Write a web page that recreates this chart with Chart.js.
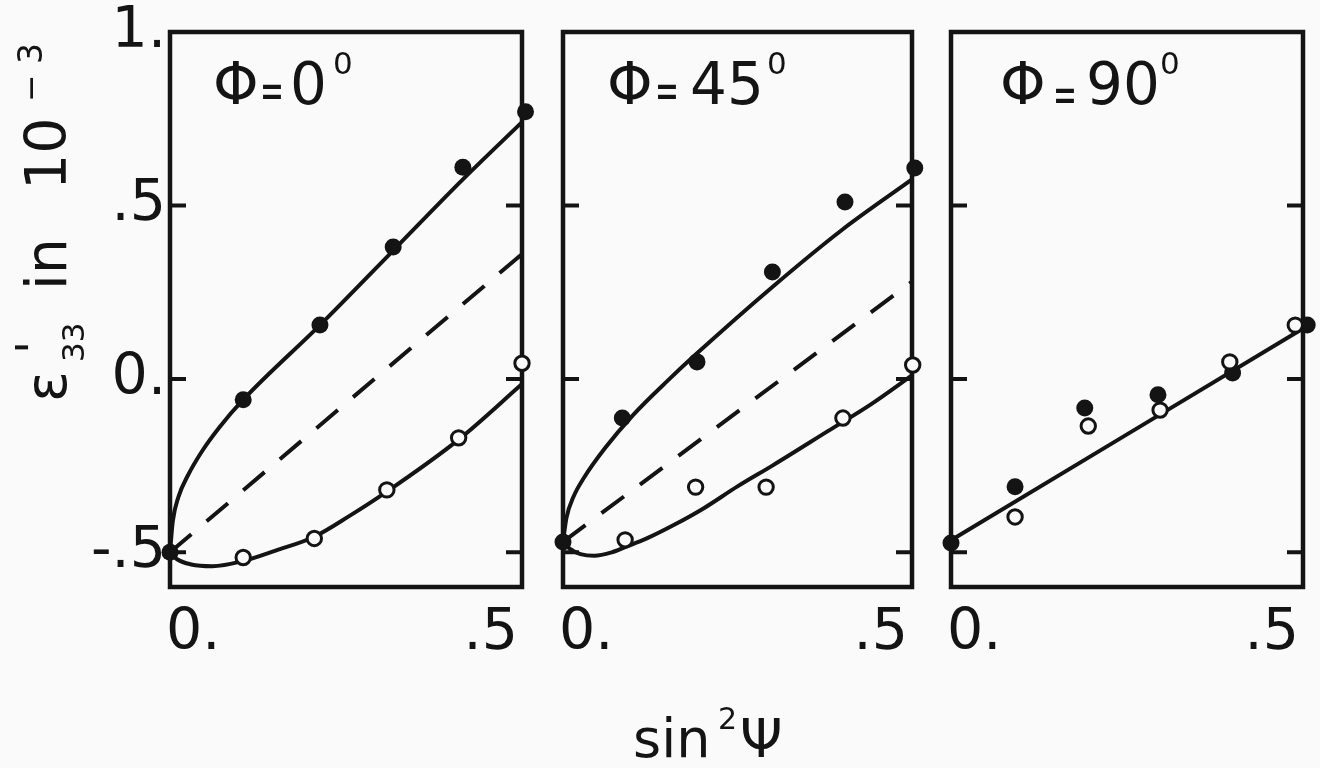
<!DOCTYPE html>
<html><head><meta charset="utf-8">
<script src="https://cdn.jsdelivr.net/npm/chart.js@4.4.1/dist/chart.umd.min.js"></script>
<style>
html,body{margin:0;padding:0;background:#fafafa;width:1320px;height:768px;overflow:hidden;}
.p{position:absolute;top:0;height:768px;}
</style></head><body>
<div class="p" style="left:0;width:540px"><canvas id="c1"></canvas></div>
<div class="p" style="left:540px;width:390px"><canvas id="c2"></canvas></div>
<div class="p" style="left:930px;width:390px"><canvas id="c3"></canvas></div>
<script>
// ---------- data ----------
const phiLabels = ['0', '45', '90'];
const xTickValues = [0, 0.5];
const xTickLabels = ['0.', '.5'];
const yTickValues = [-0.5, 0, 0.5, 1];
const yTickLabels = ['-.5', '0.', '.5', '1.'];

// Phi = 0
const p1FilledX = [0, 0.104, 0.213, 0.317, 0.416, 0.505];
const p1FilledY = [-0.5, -0.06, 0.155, 0.38, 0.61, 0.77];
const p1OpenX = [0.104, 0.205, 0.308, 0.41, 0.5];
const p1OpenY = [-0.515, -0.46, -0.32, -0.17, 0.045];
const p1UpperX = [0, 0.004, 0.012, 0.025, 0.045, 0.07, 0.104, 0.213, 0.317, 0.416, 0.5];
const p1UpperY = [-0.5, -0.41, -0.34, -0.28, -0.21, -0.14, -0.06, 0.155, 0.37, 0.575, 0.74];
const p1LowerX = [0, 0.01, 0.03, 0.06, 0.104, 0.15, 0.205, 0.255, 0.308, 0.41, 0.5];
const p1LowerY = [-0.5, -0.52, -0.535, -0.54, -0.525, -0.495, -0.455, -0.395, -0.325, -0.175, -0.015];
const p1DashX = [0, 0.5];
const p1DashY = [-0.5, 0.36];

// Phi = 45
const p2FilledX = [0, 0.085, 0.192, 0.3, 0.404, 0.504];
const p2FilledY = [-0.47, -0.113, 0.049, 0.308, 0.51, 0.608];
const p2OpenX = [0.089, 0.19, 0.291, 0.401, 0.501];
const p2OpenY = [-0.464, -0.312, -0.312, -0.113, 0.04];
const p2UpperX = [0, 0.005, 0.015, 0.03, 0.06, 0.1, 0.15, 0.19, 0.3, 0.4, 0.5];
const p2UpperY = [-0.47, -0.40, -0.34, -0.285, -0.2, -0.105, -0.005, 0.07, 0.265, 0.43, 0.575];
const p2LowerX = [0, 0.01, 0.025, 0.045, 0.07, 0.089, 0.12, 0.16, 0.2, 0.25, 0.3, 0.38, 0.44, 0.5];
const p2LowerY = [-0.47, -0.49, -0.505, -0.51, -0.5, -0.485, -0.46, -0.42, -0.375, -0.31, -0.25, -0.15, -0.075, 0.01];
const p2DashX = [0, 0.5];
const p2DashY = [-0.47, 0.28];

// Phi = 90
const p3FilledX = [0, 0.091, 0.19, 0.294, 0.4, 0.506];
const p3FilledY = [-0.473, -0.311, -0.084, -0.046, 0.017, 0.155];
const p3OpenX = [0.091, 0.195, 0.297, 0.396, 0.489];
const p3OpenY = [-0.398, -0.136, -0.09, 0.049, 0.155];
const p3LineX = [0, 0.5];
const p3LineY = [-0.465, 0.145];

// ---------- styling ----------
const INK = '#141414';
const PAPER = '#fafafa';
const FONT = "'DejaVu Sans', sans-serif";

function pts(xs, ys) { return xs.map((x, i) => ({ x: x, y: ys[i] })); }
function lineDs(xs, ys, dash) {
  return { data: pts(xs, ys), showLine: true, borderColor: INK, borderWidth: 4,
    borderDash: dash || [], pointRadius: 0, pointHoverRadius: 0,
    cubicInterpolationMode: 'monotone', order: 3, clip: false };
}
function filledDs(xs, ys) {
  return { data: pts(xs, ys), showLine: false, pointRadius: 8.5, pointHoverRadius: 8.5,
    pointBackgroundColor: INK, pointBorderColor: INK, pointBorderWidth: 0, order: 2, clip: false };
}
function openDs(xs, ys) {
  return { data: pts(xs, ys), showLine: false, pointRadius: 7.2, pointHoverRadius: 7.2,
    pointBackgroundColor: PAPER, pointBorderColor: INK, pointBorderWidth: 3, order: 1, clip: false };
}

const framePlugin = {
  id: 'frame',
  beforeDatasetsDraw(chart) {
    const { ctx, chartArea: a } = chart;
    const y = chart.scales.y;
    ctx.save();
    ctx.strokeStyle = INK; ctx.lineWidth = 4.5; ctx.lineCap = 'square';
    ctx.strokeRect(a.left, a.top, a.right - a.left, a.bottom - a.top);
    ctx.lineWidth = 4; ctx.lineCap = 'butt';
    yTickValues.forEach(v => {
      if (v <= y.min || v >= y.max) return;
      const py = y.getPixelForValue(v);
      ctx.beginPath();
      ctx.moveTo(a.left, py); ctx.lineTo(a.left + 16, py);
      ctx.moveTo(a.right, py); ctx.lineTo(a.right - 16, py);
      ctx.stroke();
    });
    ctx.restore();
  }
};

// panel heading  "Φ = n⁰"
const headLayout = [
  { phi: 43, eq: 90, eqBase: 108, num: 120, sup: 163 },
  { phi: 44, eq: 92, eqBase: 108, num: 127, sup: 204 },
  { phi: 49, eq: 102, eqBase: 112, num: 135, sup: 209 }
];
function headPlugin(idx) {
  return {
    id: 'head' + idx,
    afterDatasetsDraw(chart) {
      const { ctx, chartArea: a } = chart;
      const L = headLayout[idx];
      ctx.save();
      ctx.fillStyle = INK; ctx.textBaseline = 'alphabetic'; ctx.textAlign = 'left';
      ctx.font = '58px ' + FONT; ctx.fillText('Φ', a.left + L.phi, 104);
      ctx.fillText(phiLabels[idx], a.left + L.num, 104);
      ctx.font = '31px ' + FONT; ctx.fillText('0', a.left + L.sup, 74);
      ctx.save();
      ctx.translate(a.left + L.eq, L.eqBase);
      ctx.scale(0.55, 1);
      ctx.font = '52px ' + FONT; ctx.fillText('=', 0, 0);
      ctx.restore();
      ctx.restore();
    }
  };
}

const yTitlePlugin = {
  id: 'ytitle',
  afterDraw(chart) {
    const ctx = chart.ctx;
    ctx.save();
    ctx.fillStyle = INK; ctx.textBaseline = 'alphabetic'; ctx.textAlign = 'left';
    ctx.translate(66, 402);
    ctx.rotate(-Math.PI / 2);
    ctx.font = '57px ' + FONT; ctx.fillText('ε', 0, 0);
    ctx.font = '48px ' + FONT; ctx.fillText("'", 48, -16);
    ctx.font = '31px ' + FONT; ctx.fillText('33', 40, 18);
    ctx.font = '57px ' + FONT; ctx.fillText('in', 112, 0);
    ctx.fillText('10', 212, 0);
    ctx.font = '33px ' + FONT; ctx.fillText('−', 300, -24);
    ctx.fillText('3', 338, -24);
    ctx.restore();
  }
};

const xTitlePlugin = {
  id: 'xtitle',
  afterDraw(chart) {
    const ctx = chart.ctx;
    ctx.save();
    ctx.fillStyle = INK; ctx.textBaseline = 'alphabetic'; ctx.textAlign = 'left';
    ctx.font = '54px ' + FONT; ctx.fillText('sin', 93, 757);
    ctx.font = '30px ' + FONT; ctx.fillText('2', 178, 729);
    ctx.font = '54px ' + FONT; ctx.fillText('Ψ', 200, 757);
    ctx.restore();
  }
};

function makePanel(id, idx, datasets, pad, showY, extra) {
  return new Chart(document.getElementById(id), {
    type: 'scatter',
    data: { datasets: datasets },
    options: {
      responsive: true, maintainAspectRatio: false, animation: false,
      events: [],
      layout: { padding: pad },
      plugins: { legend: { display: false }, tooltip: { enabled: false } },
      scales: {
        x: {
          type: 'linear', min: 0, max: 0.5,
          grid: { display: false }, border: { display: false },
          afterBuildTicks: s => { s.ticks = xTickValues.map(v => ({ value: v })); },
          afterFit: s => { s.height = 90; },
          ticks: {
            callback: v => xTickLabels[xTickValues.indexOf(v)],
            align: 'inner', padding: 11, labelOffset: -4, maxRotation: 0, autoSkip: false,
            color: INK, font: { family: FONT, size: 57, lineHeight: 1 }
          }
        },
        y: {
          type: 'linear', min: -0.6, max: 1.0, display: showY,
          grid: { display: false }, border: { display: false },
          afterBuildTicks: s => { s.ticks = yTickValues.map(v => ({ value: v })); },
          afterFit: s => { s.width = showY ? 170 : 0; },
          ticks: {
            callback: v => yTickLabels[yTickValues.indexOf(v)],
            padding: -4, autoSkip: false,
            color: INK, font: { family: FONT, size: 57, lineHeight: 1 }
          }
        }
      }
    },
    plugins: [framePlugin, headPlugin(idx)].concat(extra || [])
  });
}

makePanel('c1', 0, [
  lineDs(p1UpperX, p1UpperY), lineDs(p1LowerX, p1LowerY), lineDs(p1DashX, p1DashY, [28, 20]),
  filledDs(p1FilledX, p1FilledY), openDs(p1OpenX, p1OpenY)
], { left: 0, right: 18, top: 32, bottom: 91 }, true, [yTitlePlugin]);

makePanel('c2', 1, [
  lineDs(p2UpperX, p2UpperY), lineDs(p2LowerX, p2LowerY), lineDs(p2DashX, p2DashY, [28, 20]),
  filledDs(p2FilledX, p2FilledY), openDs(p2OpenX, p2OpenY)
], { left: 23, right: 18, top: 32, bottom: 91 }, false, [xTitlePlugin]);

makePanel('c3', 2, [
  lineDs(p3LineX, p3LineY),
  filledDs(p3FilledX, p3FilledY), openDs(p3OpenX, p3OpenY)
], { left: 21, right: 17, top: 32, bottom: 91 }, false);
</script>
</body></html>
